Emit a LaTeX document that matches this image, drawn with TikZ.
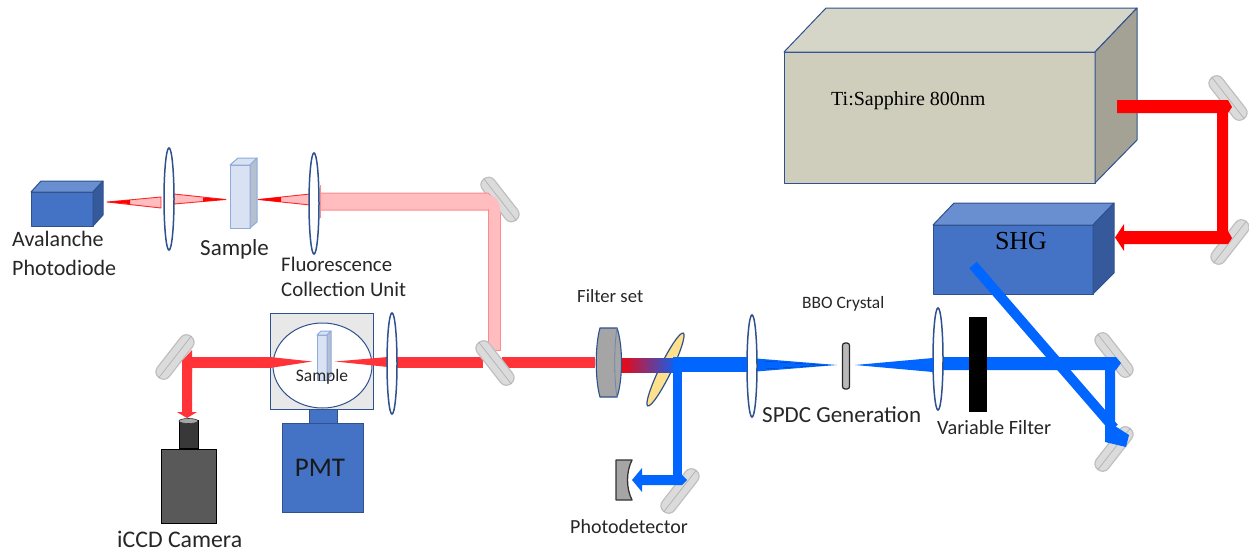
\documentclass[tikz,border=0pt]{standalone}
\usepackage{fontspec}
\setmainfont{Carlito}
\newfontfamily\serifface{Liberation Serif}
\usetikzlibrary{shapes.geometric}
\definecolor{edgeblue}{HTML}{2F528F}
\definecolor{boxblue}{HTML}{4472C4}
\definecolor{boxtop}{HTML}{6A8FD0}
\definecolor{boxside}{HTML}{35599A}
\definecolor{tifront}{HTML}{CFCDBC}
\definecolor{titop}{HTML}{D6D6C8}
\definecolor{tiside}{HTML}{A3A295}
\definecolor{beamred}{HTML}{FF0000}
\definecolor{softred}{HTML}{FF3338}
\definecolor{palered}{HTML}{FFBDBF}
\definecolor{paleedge}{HTML}{FF8A8E}
\definecolor{beamblue}{HTML}{0066FF}
\definecolor{samplefill}{HTML}{D9E2F3}
\definecolor{sampleedge}{HTML}{8FAADC}
\definecolor{sampleside}{HTML}{B4BFD0}
\definecolor{labelgray}{HTML}{262626}
\definecolor{dichroicfill}{HTML}{FFE08C}
\definecolor{filtergray}{HTML}{A5A5A5}
\tikzset{
  x=1pt,y=-1pt,
  lensbody/.style={ellipse,draw=edgeblue,line width=1.5pt,fill=white,inner sep=0pt,minimum width=10pt},
  mirrorbox/.style={rectangle,rounded corners=7pt,draw=gray!50,line width=1.2pt,fill=gray!28,inner sep=0pt,minimum width=52pt,minimum height=15pt},
  mirrorline/.style={draw=gray!60,line width=0.7pt},
  lbl/.style={font=\fontsize{22}{24}\selectfont,text=labelgray,inner sep=0pt,anchor=west},
  seriflbl/.style={font=\serifface\fontsize{20}{22}\selectfont,text=black,inner sep=0pt},
  boxedge/.style={draw=edgeblue,line width=1pt,line join=round},
  sampleline/.style={draw=sampleedge,line width=1pt,line join=round},
  paletri/.style={fill=palered,draw=beamred!85,line width=0.9pt,line join=round},
}
\newcommand{\mirrorat}[4]{%
  \node[mirrorbox,rotate=#4] (#1) at (#2,#3) {};
  \draw[mirrorline] (#1.west) -- (#1.east);
}
\begin{document}
\begin{tikzpicture}
\path[use as bounding box] (0,0) rectangle (1249,552);

% Ti:Sapphire
\fill[tifront,boxedge] (784,52) rectangle (1095,183);
\fill[titop,boxedge] (784,52) -- (826,8) -- (1137,8) -- (1095,52) -- cycle;
\fill[tiside,boxedge] (1095,52) -- (1137,8) -- (1137,140) -- (1095,183) -- cycle;
\node[seriflbl,anchor=west] (tilabel) at (831,101) {Ti:Sapphire 800nm};

% SHG
\fill[boxblue,boxedge] (933,225) rectangle (1093,294);
\fill[boxtop,boxedge] (933,225) -- (954,203) -- (1114,203) -- (1093,225) -- cycle;
\fill[boxside,boxedge] (1093,225) -- (1114,203) -- (1114,273) -- (1093,294) -- cycle;
\node[seriflbl,font=\serifface\fontsize{26}{28}\selectfont] (shglabel) at (1021,241) {SHG};

% Mirrors behind beams
\mirrorat{mA}{1228}{98}{-52}
\mirrorat{mB}{1230}{242}{52}
\mirrorat{mC}{1114}{355}{-52}
\mirrorat{mD}{1114}{449}{52}
\mirrorat{mE}{680}{491}{52}
\mirrorat{mG}{175}{357}{52}

% Red laser path
\fill[beamred] (1117,100) -- (1228,100) -- (1232,107) -- (1228,113) -- (1228,231) -- (1232,238) -- (1228,244) -- (1124,244) -- (1124,251) -- (1115,237.5) -- (1124,224) -- (1124,231) -- (1217,231) -- (1217,113) -- (1117,113) -- cycle;

% Blue beam
\fill[beamblue] (937,357) -- (1116,357) -- (1121,363) -- (1116,370) -- (1115,370) -- (1115,428) -- (1105,420) -- (1105,370) -- (937,370) -- cycle;
\draw[beamblue,line width=10pt] (973,265) -- (1114,428);
\fill[beamblue] (1105,418) -- (1115,426) -- (1129,435) -- (1126,447) -- (1105,442) -- cycle;

% Variable filter
\node[fill=black,inner sep=0pt,minimum width=18pt,minimum height=95pt] (varfilter) at (978,364.5) {};

% Lens by variable filter
\node[lensbody,minimum height=102pt] (lensA) at (938,359) {};

% Beam into BBO
\fill[beamblue] (855,365) -- (933,358) -- (933,372) -- cycle;

% BBO
\node[rectangle,rounded corners=2.5pt,draw=black!85,line width=1.2pt,fill=gray!55,inner sep=0pt,minimum width=7pt,minimum height=46pt] (bbo) at (846,366) {};

% Beam after BBO
\fill[beamblue] (837,365) -- (750,358) -- (750,372) -- cycle;
\fill[left color=beamblue,middle color=violet!80!red,right color=beamblue] (762,361) -- (762,369) -- (825,365.3) -- cycle;
\node[lensbody,minimum height=102pt] (lensB) at (752,366) {};

% Dichroic, with the beam across it
\node[ellipse,draw=edgeblue,line width=1.2pt,fill=dichroicfill,inner sep=0pt,minimum width=81pt,minimum height=12pt,rotate=64] (dichroic) at (665.5,369.5) {};
\fill[left color=beamred,right color=beamblue] (617,358) rectangle (680,372);
\fill[beamblue] (673,357) rectangle (747,372);
\fill[beamblue] (673,372) rectangle (682,475);
\fill[beamblue] (673,475) -- (682,475) -- (687,480) -- (682,485) -- (642,485) -- (642,492) -- (632,480) -- (642,468) -- (642,475) -- cycle;

% Filter set
\path[fill=filtergray,draw=edgeblue,line width=1.1pt] (600,328) -- (617,328) .. controls (623,345) and (623,380) .. (617,397) -- (600,397) .. controls (595,380) and (595,345) .. (600,328) -- cycle;
\draw[edgeblue!70,line width=0.8pt] (617,328) .. controls (614,345) and (614,380) .. (617,397);

% Photodetector
\path[fill=filtergray,draw=black!80,line width=1.3pt,line join=round] (616,460) -- (632,460) .. controls (626,472) and (626,488) .. (632,500) -- (616,500) -- cycle;

% Main red line and beam down from upper mirror
\fill[softred] (502,357) rectangle (595,368);
\path[fill=palered,draw=paleedge,line width=1pt] (488.5,207) -- (500.5,207) -- (500.5,350) -- (488.5,350) -- cycle;
\fill[softred] (395,357) rectangle (483,368);
\fill[softred] (395,350) -- (388,362) -- (395,374) -- cycle;
\mirrorat{mF}{495}{363}{-52}

% Measurement chamber
\node[rectangle,draw=edgeblue,line width=1pt,fill=gray!18,inner sep=0pt,minimum width=103pt,minimum height=96pt] (chamber) at (321.5,361) {};
\node[ellipse,draw=edgeblue,line width=1pt,fill=white,inner sep=0pt,minimum width=99pt,minimum height=85pt] (cavity) at (322.5,365.5) {};
\node[rectangle,fill=boxblue,draw=edgeblue,line width=0.8pt,inner sep=0pt,minimum width=28pt,minimum height=14pt] (neck) at (323,416) {};
\node[rectangle,fill=boxblue,draw=edgeblue,line width=0.8pt,inner sep=0pt,minimum width=81pt,minimum height=89pt] (pmt) at (322.5,467.5) {};
\node[font=\fontsize{27}{30}\selectfont,text=black!90,inner sep=0pt] (pmtlabel) at (320,468) {PMT};

% Small sample
\fill[samplefill,sampleline] (317,335) rectangle (327,380);
\fill[samplefill,sampleline] (317,335) -- (321,331) -- (331,331) -- (327,335) -- cycle;
\fill[sampleside,sampleline] (327,335) -- (331,331) -- (331,376) -- (327,380) -- cycle;
\node[font=\fontsize{17.5}{20}\selectfont,text=labelgray,inner sep=0pt] (samplesmall) at (322,377) {Sample};

% Red in chamber
\fill[softred] (335,361.5) -- (388,357) -- (388,367) -- cycle;
\fill[softred] (312,361.5) -- (270,357) -- (270,368) -- cycle;
\fill[softred] (192,357) rectangle (271,368);
\fill[softred] (182,361) -- (192,350) -- (192,372) -- cycle;
\fill[softred] (182,361) -- (192,357) -- (192,412) -- (182,412) -- cycle;
\fill[softred] (177,412) -- (197,412) -- (187,418) -- cycle;
\node[lensbody,minimum height=101pt] (lensC) at (392,363.5) {};

% Camera
\node[rectangle,fill=black!78,draw=black,line width=0.8pt,inner sep=0pt,minimum width=19pt,minimum height=28pt] (camlens) at (188.5,434) {};
\node[ellipse,fill=gray!70,draw=black!80,line width=0.6pt,inner sep=0pt,minimum width=19pt,minimum height=5pt] (camcap) at (188.5,421) {};
\node[rectangle,fill=black!65,draw=black,line width=1pt,inner sep=0pt,minimum width=55pt,minimum height=74pt] (cambody) at (188.5,486) {};

% Upper pale beam
\mirrorat{mH}{500}{199.5}{-52}
\path[fill=palered,draw=paleedge,line width=1pt] (320,193) -- (488,193) -- (494,199) -- (488,210) -- (320,210) -- cycle;
\fill[palered] (487,194) -- (496,198) -- (500,206) -- (500,212) -- (489.5,212) -- (489.5,209) -- (487,209) -- cycle;
\draw[paleedge,line width=1pt] (320,185) -- (320,218);

% APD
\fill[boxblue,boxedge] (31,192) rectangle (93,226);
\fill[boxtop,boxedge] (31,192) -- (41,181) -- (103,181) -- (93,192) -- cycle;
\fill[boxside,boxedge] (93,192) -- (103,181) -- (103,215) -- (93,226) -- cycle;

% Upper triangles
\fill[paletri] (107,202) -- (161,197) -- (161,208) -- cycle;
\fill[beamred] (107,202) -- (130,200) -- (130,204) -- cycle;
\fill[paletri] (174,194) -- (174,204) -- (226,199.5) -- cycle;
\fill[beamred] (226,199.5) -- (203,197.5) -- (203,201.5) -- cycle;
\fill[paletri] (258,199.5) -- (310,194) -- (310,205) -- cycle;
\fill[beamred] (258,199.5) -- (281,197) -- (281,202) -- cycle;

% Upper lenses
\node[lensbody,minimum height=102pt] (lensD) at (169,199) {};
\node[lensbody,minimum height=101pt] (lensE) at (314,203.5) {};

% Large sample
\fill[samplefill,sampleline] (230,165) rectangle (250,228);
\fill[samplefill,sampleline] (230,165) -- (238,158) -- (257,158) -- (250,165) -- cycle;
\fill[sampleside,sampleline] (250,165) -- (257,158) -- (257,222) -- (250,228) -- cycle;

% Labels
\node[lbl] (apdA) at (12,239) {Avalanche};
\node[lbl] (apdB) at (12,268) {Photodiode};
\node[lbl,font=\fontsize{23}{25}\selectfont] (samplelarge) at (200,249) {Sample};
\node[lbl,font=\fontsize{20.8}{23}\selectfont] (fluA) at (281,264) {Fluorescence};
\node[lbl,font=\fontsize{20.8}{23}\selectfont] (fluB) at (281,289) {Collection Unit};
\node[lbl,font=\fontsize{18.7}{21}\selectfont] (filterlabel) at (577,296) {Filter set};
\node[lbl,font=\fontsize{17.4}{20}\selectfont] (bbolabel) at (802,304) {BBO Crystal};
\node[lbl,font=\fontsize{23}{25}\selectfont] (spdclabel) at (762,415) {SPDC Generation};
\node[lbl,font=\fontsize{20.3}{23}\selectfont] (varlabel) at (937,428) {Variable Filter};
\node[lbl,font=\fontsize{20}{22}\selectfont] (photolabel) at (570,527) {Photodetector};
\node[lbl,font=\fontsize{23.8}{26}\selectfont] (icclabel) at (117,539) {iCCD Camera};
\end{tikzpicture}
\end{document}
